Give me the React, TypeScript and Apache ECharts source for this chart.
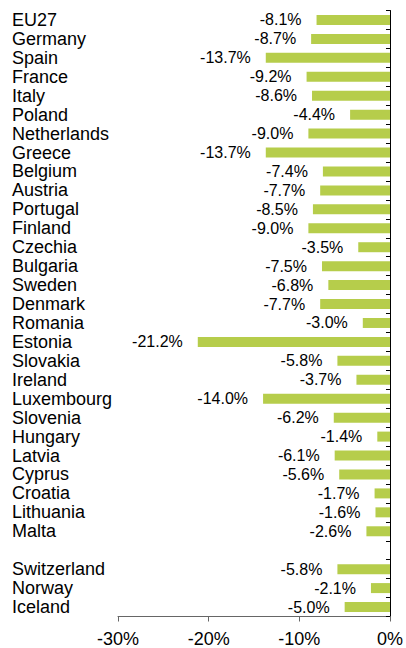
import React, { useEffect, useRef } from "react";
import * as echarts from "echarts";

const categories = [
  "EU27", "Germany", "Spain", "France", "Italy", "Poland", "Netherlands", "Greece",
  "Belgium", "Austria", "Portugal", "Finland", "Czechia", "Bulgaria", "Sweden", "Denmark",
  "Romania", "Estonia", "Slovakia", "Ireland", "Luxembourg", "Slovenia", "Hungary", "Latvia",
  "Cyprus", "Croatia", "Lithuania", "Malta", "", "Switzerland", "Norway", "Iceland",
];

const values: (number | null)[] = [
  -8.1, -8.7, -13.7, -9.2, -8.6, -4.4, -9.0, -13.7,
  -7.4, -7.7, -8.5, -9.0, -3.5, -7.5, -6.8, -7.7,
  -3.0, -21.2, -5.8, -3.7, -14.0, -6.2, -1.4, -6.1,
  -5.6, -1.7, -1.6, -2.6, null, -5.8, -2.1, -5.0,
];

const xMin = -30;
const xMax = 0;
const xInterval = 10;

const FONT = "'Liberation Sans', Arial, sans-serif";

export default function App() {
  const ref = useRef<HTMLDivElement>(null);
  useEffect(() => {
    document.body.style.margin = "0";
    if (!ref.current) return;
    const chart = echarts.init(ref.current, null, { renderer: "svg" });
    chart.setOption({
      animation: false,
      backgroundColor: "#ffffff",
      grid: { left: 118, right: 13, top: 10.5, bottom: 31.5, containLabel: false },
      xAxis: {
        type: "value",
        min: xMin,
        max: xMax,
        interval: xInterval,
        axisLine: { show: true, lineStyle: { color: "#666", width: 1 } },
        axisTick: { show: true, length: 5, lineStyle: { color: "#666" } },
        splitLine: { show: false },
        axisLabel: {
          formatter: (v: number) => `${v}%`,
          fontFamily: FONT,
          fontSize: 18,
          color: "#000",
          margin: 13,
        },
      },
      yAxis: [
        {
          type: "category",
          data: categories,
          inverse: true,
          position: "right",
          axisLine: { show: true, lineStyle: { color: "#000", width: 1 } },
          axisTick: { show: true, inside: true, length: 4, lineStyle: { color: "#000" } },
          axisLabel: { show: false },
          splitLine: { show: false },
        },
        {
          type: "category",
          data: categories,
          inverse: true,
          position: "left",
          axisLine: { show: false },
          axisTick: { show: false },
          splitLine: { show: false },
          axisLabel: {
            show: true,
            align: "left",
            margin: 106,
            fontFamily: FONT,
            fontSize: 18,
            color: "#000",
            interval: 0,
          },
        },
      ],
      series: [
        {
          type: "bar",
          yAxisIndex: 0,
          data: values,
          barWidth: 10,
          itemStyle: { color: "#b6cd4b" },
          label: {
            show: true,
            position: "left",
            distance: 15,
            fontFamily: FONT,
            fontSize: 16,
            color: "#000",
            formatter: (p: any) => (p.value == null ? "" : `${Number(p.value).toFixed(1)}%`),
          },
        },
      ],
    });
    return () => chart.dispose();
  }, []);
  return <div ref={ref} style={{ width: 406, height: 648 }} />;
}
